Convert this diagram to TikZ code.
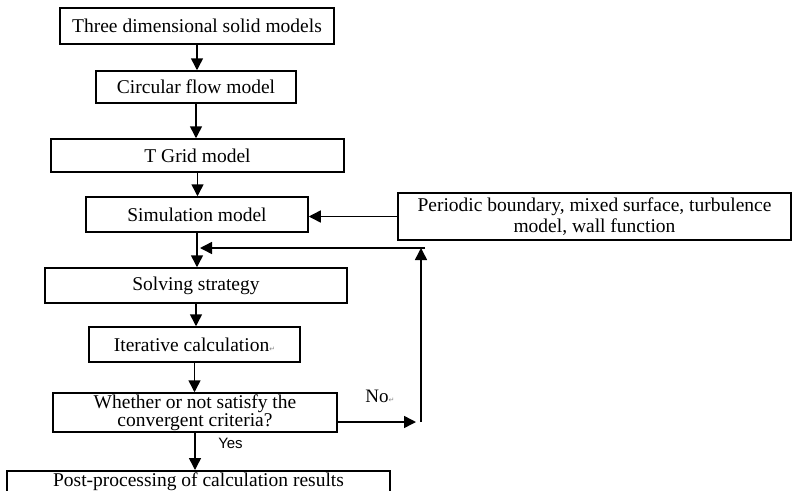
\documentclass[tikz,border=0pt]{standalone}
\usepackage{fontspec}
\setmainfont{Liberation Serif}
\newfontfamily\arialfont{Liberation Sans}
\newfontfamily\markfont{DejaVu Sans}
\usetikzlibrary{arrows.meta}
\definecolor{ink}{HTML}{000000}
\definecolor{paper}{HTML}{FFFFFF}
\definecolor{retgray}{HTML}{8A8A8A}
\tikzset{
  pbox/.style={draw=ink, line width=1.5pt, fill=paper, inner sep=0pt, align=center, font=\fontsize{19.5}{21}\selectfont},
  flow/.style={draw=ink, line width=1.5pt, -{Triangle[width=12pt,length=12pt]}},
  lab/.style={text=ink, inner sep=0pt}
}
\newcommand{\retmark}{{\markfont\fontsize{7}{7}\selectfont\textcolor{retgray}{↵}}}

\begin{document}
\begin{tikzpicture}[x=1pt,y=-1pt]
  \fill[paper] (0,0) rectangle (792,490);
  \useasboundingbox (0,0) rectangle (792,490);
  \clip (0,0) rectangle (792,490);

  % main column
  \node[pbox, minimum width=274pt, minimum height=36pt] (solid) at (197,26) {Three dimensional solid models};
  \node[pbox, minimum width=200pt, minimum height=32pt] (circ) at (196,87) {Circular flow model};
  \node[pbox, minimum width=293pt, minimum height=33pt] (grid) at (197.5,155.5) {T Grid model};
  \node[pbox, minimum width=222pt, minimum height=35pt] (sim) at (197,214.5) {Simulation model};
  \node[pbox, minimum width=302pt, minimum height=35pt] (solve) at (196,285.5) {Solving strategy};
  \node[pbox, minimum width=211pt, minimum height=35pt] (iter) at (194.5,344.5) {Iterative calculation\retmark};
  \node[pbox, minimum width=284pt, minimum height=39pt, font=\fontsize{19.5}{18}\selectfont] (dec) at (195,412.5) {Whether or not satisfy the\\convergent criteria?};
  \node[pbox, anchor=north, minimum width=383pt, inner ysep=3pt, text height=13pt, text depth=8pt] (post) at (198.5,470) {Post-processing of calculation results};

  % side input
  \node[pbox, minimum width=393pt, minimum height=47pt, font=\fontsize{19.5}{21.6}\selectfont] (per) at (594.5,216.5) {Periodic boundary, mixed surface, turbulence\\model, wall function};

  \draw[flow] (solid.south) -- (solid.south |- circ.north);
  \draw[flow] (circ.south) -- (circ.south |- grid.north);
  \draw[flow] (grid.south) -- (grid.south |- sim.north);
  \draw[flow] (sim.south) -- (sim.south |- solve.north);
  \draw[flow] (solve.south) -- (solve.south |- iter.north);
  \draw[flow] (iter.south) -- (iter.south |- dec.north);
  \draw[flow] (dec.south) -- (dec.south |- post.north);
  \draw[flow] (per.west) -- (per.west -| sim.east);

  % feedback loop
  \coordinate (nocorner) at (421,422);
  \coordinate (looptop) at (425,248);
  \coordinate (join) at (200,248);
  \draw[flow] (dec.east |- nocorner) -- ([xshift=-5pt]nocorner);
  \draw[flow] (nocorner) -- (nocorner |- looptop);
  \draw[flow] (looptop) -- (join);

  \node[lab, font=\fontsize{19}{19}\selectfont] (no) at (380,396) {No\retmark};
  \node[lab, font=\arialfont\fontsize{15}{15}\selectfont] (yes) at (230.5,443) {Yes};
\end{tikzpicture}
\end{document}
